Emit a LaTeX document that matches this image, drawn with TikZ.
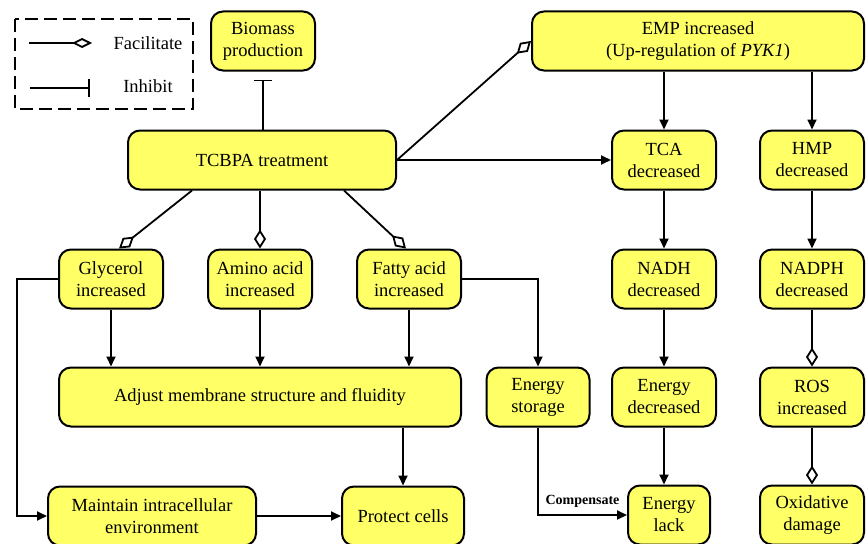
\documentclass[tikz,border=0pt]{standalone}
\usepackage{fontspec}
\setmainfont{Liberation Serif}
\newfontfamily\boxfont{Liberation Serif}
\usepackage{xcolor}
\usetikzlibrary{arrows.meta}
\definecolor{boxyellow}{RGB}{255,255,102}

\begin{document}
\begin{tikzpicture}[x=1pt,y=-1pt,
    box/.style={draw,line width=2pt,rounded corners=12pt,fill=boxyellow,align=center,
        minimum width=104pt,minimum height=59pt,inner sep=2pt,font=\boxfont\fontsize{18.5}{22}\selectfont},
    arr/.style={line width=1.8pt,-{Triangle[length=10pt,width=9pt]}},
    fac/.style={line width=1.8pt,-{Diamond[open,length=19pt,width=12pt]}},
    inh/.style={line width=1.8pt,-{Bar[width=18pt]}}]
    \useasboundingbox (0,0) rectangle (866,543);

    % Legend
    \draw[line width=1.8pt,dash pattern=on 13pt off 6pt] (15,19) rectangle (193,109);
    \coordinate (facA) at (29,43);
    \coordinate (facB) at (92,43);
    \coordinate (inhA) at (30,88);
    \coordinate (inhB) at (90,88);
    \draw[line width=1.8pt,-{Diamond[open,length=20pt,width=10pt]}] (facA) -- (facB);
    \draw[inh] (inhA) -- (inhB);
    \node[font=\boxfont\fontsize{18.5}{22}\selectfont] (facText) at (148,43) {Facilitate};
    \node[font=\boxfont\fontsize{18.5}{22}\selectfont] (inhText) at (148,86) {Inhibit};

    % Top rows
    \node[box] (bio) at (263,41) {Biomass\\production};
    \node[box,minimum width=332pt] (emp) at (698,41) {EMP increased\\(Up-regulation of \textit{PYK1})};
    \node[box,minimum width=268pt] (tcbpa) at (262,160) {TCBPA treatment};
    \node[box] (tca) at (664,160) {TCA\\decreased};
    \node[box] (hmp) at (812,160) {HMP\\decreased};

    % Metabolites
    \node[box] (gly) at (111,279) {Glycerol\\increased};
    \node[box] (amino) at (260,279) {Amino acid\\increased};
    \node[box] (fatty) at (409,279) {Fatty acid\\increased};
    \node[box] (nadh) at (664,279) {NADH\\decreased};
    \node[box] (nadph) at (812,279) {NADPH\\decreased};

    % Effects
    \node[box,minimum width=402pt] (memb) at (260,397) {Adjust membrane structure and fluidity};
    \node[box,minimum width=103pt] (estore) at (538,397) {Energy\\storage};
    \node[box] (edec) at (664,397) {Energy\\decreased};
    \node[box] (ros) at (812,397) {ROS\\increased};

    % Outcomes
    \node[box,minimum width=208pt] (maintain) at (152,516) {Maintain intracellular\\environment};
    \node[box,minimum width=122pt] (protect) at (403,516) {Protect cells};
    \node[box,minimum width=82pt] (elack) at (669,515) {Energy\\lack};
    \node[box] (oxid) at (812,515) {Oxidative\\damage};

    % TCBPA links
    \draw[inh,shorten >=8pt] (tcbpa.north -| bio.south) -- (bio.south);
    \draw[fac] (tcbpa.east) -- (emp.west);
    \draw[arr] (tcbpa.east) -- (tca.west);
    \draw[fac] ([xshift=65pt]tcbpa.south west) -- ([xshift=8pt]gly.north);
    \draw[fac] (tcbpa.south -| amino.north) -- (amino.north);
    \draw[fac] ([xshift=-53pt]tcbpa.south east) -- ([xshift=-3pt]fatty.north);

    % Left branch
    \draw[arr] (gly.south) -- (gly.south |- memb.north);
    \draw[arr] (amino.south) -- (amino.south |- memb.north);
    \draw[arr] (fatty.south) -- (fatty.south |- memb.north);
    \draw[arr] (gly.west) -- ++(-41,0) |- (maintain.west);
    \draw[arr] (fatty.east) -| (estore.north);
    \draw[arr] (protect.north |- memb.south) -- (protect.north);
    \draw[arr] (maintain.east) -- (maintain.east -| protect.west);
    \draw[arr] (estore.south) |- (elack.west)
        node[pos=0.75,above=3pt,font=\boxfont\bfseries\fontsize{14}{16}\selectfont] (comp) {Compensate};

    % Right branch
    \draw[arr] (tca.north |- emp.south) -- (tca.north);
    \draw[arr] (hmp.north |- emp.south) -- (hmp.north);
    \draw[arr] (tca.south) -- (nadh.north);
    \draw[arr] (hmp.south) -- (nadph.north);
    \draw[arr] (nadh.south) -- (edec.north);
    \draw[arr] (edec.south) -- (edec.south |- elack.north);
    \draw[fac] (nadph.south) -- (ros.north);
    \draw[fac] (ros.south) -- (oxid.north);

\end{tikzpicture}
\end{document}
